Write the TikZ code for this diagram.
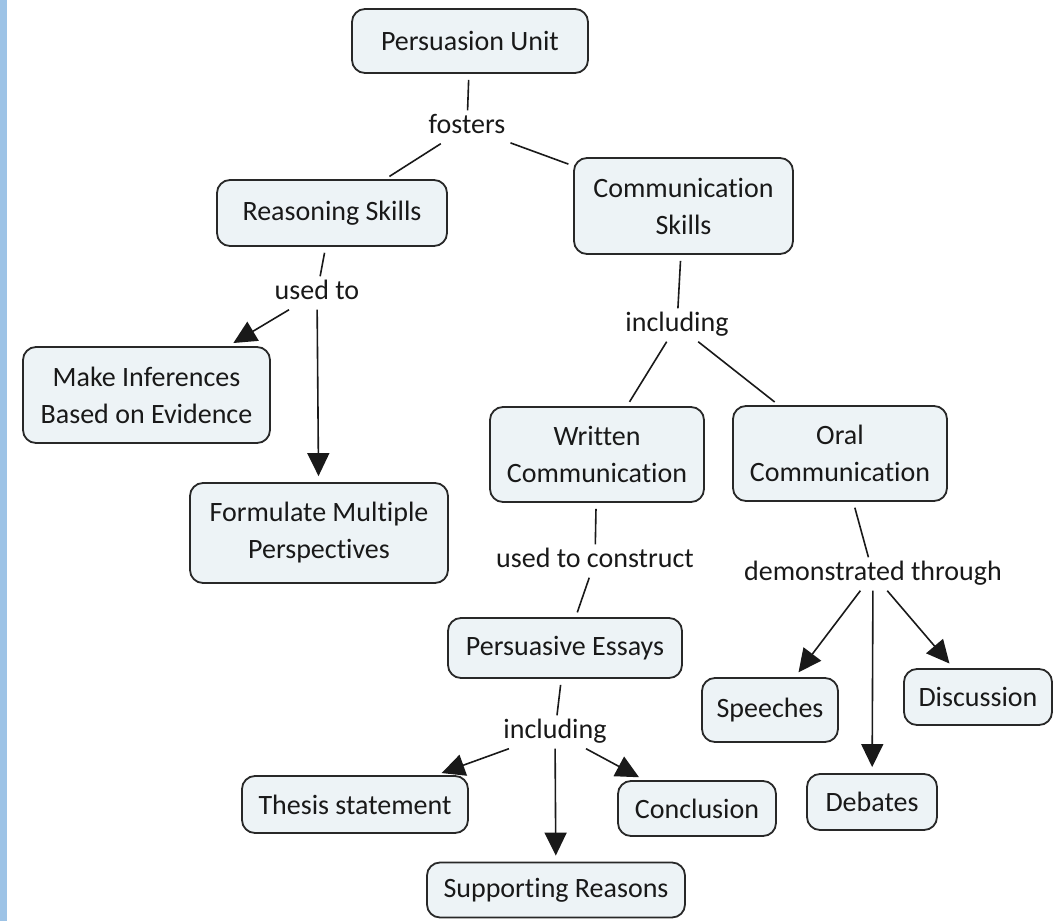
\documentclass[tikz,border=0pt]{standalone}
\usepackage{fontspec}
\setmainfont{Carlito}[Ligatures=NoCommon]
\usetikzlibrary{arrows.meta}
\definecolor{barblue}{RGB}{157,195,230}
\definecolor{boxfill}{RGB}{237,243,246}
\definecolor{boxline}{RGB}{40,40,40}
\definecolor{inkc}{RGB}{25,25,25}
\tikzset{
  concept/.style={draw=boxline, fill=boxfill, line width=1.8pt, rounded corners=13pt,
    align=center, inner sep=0pt, font=\fontsize{28}{37}\selectfont, text=inkc},
  linklabel/.style={font=\fontsize{28}{37}\selectfont, text=inkc, inner xsep=5pt,
    inner ysep=4pt, text height=19pt, text depth=6pt},
  conn/.style={draw=inkc, line width=1.6pt},
  arr/.style={conn, -{Triangle[length=23pt,width=22pt]}, shorten >=6pt},
  tobox/.style={shorten >=5pt},
  frombox/.style={shorten <=6pt},
}
\begin{document}
\begin{tikzpicture}[x=1pt,y=-1pt]
\useasboundingbox (0,0) rectangle (1053,921);
\fill[barblue] (0,0) rectangle (7,921);

% concepts
\node[concept, minimum width=236pt, minimum height=64pt] (pu) at (470,41) {Persuasion Unit};
\node[concept, minimum width=230pt, minimum height=66pt] (rs) at (332,213) {Reasoning Skills};
\node[concept, minimum width=219pt, minimum height=96pt] (cs) at (683.5,206) {Communication\\Skills};
\node[concept, minimum width=247pt, minimum height=96pt] (mi) at (146.5,395) {Make Inferences\\Based on Evidence};
\node[concept, minimum width=258pt, minimum height=100pt] (fm) at (319,533) {Formulate Multiple\\Perspectives};
\node[concept, minimum width=214pt, minimum height=95pt] (wc) at (597,454.5) {Written\\Communication};
\node[concept, minimum width=214pt, minimum height=95pt] (oc) at (840,453.5) {Oral\\Communication};
\node[concept, minimum width=234pt, minimum height=60pt] (pe) at (565,648) {Persuasive Essays};
\node[concept, minimum width=226pt, minimum height=57pt] (th) at (355,804.5) {Thesis statement};
\node[concept, minimum width=158pt, minimum height=55pt] (co) at (697,808.5) {Conclusion};
\node[concept, minimum width=258pt, minimum height=55pt] (sr) at (556,890) {Supporting Reasons};
\node[concept, minimum width=136pt, minimum height=64pt] (sp) at (770,710) {Speeches};
\node[concept, minimum width=148pt, minimum height=56pt] (di) at (978,697) {Discussion};
\node[concept, minimum width=130pt, minimum height=56pt] (db) at (872,802) {Debates};

% linking phrases
\node[linklabel] (fosters) at (467,127) {fosters};
\node[linklabel] (usedto) at (317,293) {used to};
\node[linklabel] (incl1) at (677,325) {including};
\node[linklabel] (usedtoc) at (595,561) {used to construct};
\node[linklabel] (incl2) at (555,732) {including};
\node[linklabel] (demo) at (873,574) {demonstrated through};

% connectors
\draw[conn, frombox] (pu) -- (fosters);
\draw[conn, tobox] (fosters) -- (rs);
\draw[conn, tobox] (fosters) -- (cs);
\draw[conn, frombox] (rs) -- (usedto);
\draw[arr] (usedto) -- (mi);
\draw[arr] (usedto) -- (fm);
\draw[conn, frombox] (cs) -- (incl1);
\draw[conn, tobox] (incl1) -- (wc);
\draw[conn, tobox] (incl1) -- (oc);
\draw[conn, frombox] (wc) -- (usedtoc);
\draw[conn, tobox] (usedtoc) -- (pe);
\draw[conn, frombox] (pe) -- (incl2);
\draw[arr] (incl2) -- (th);
\draw[arr] (incl2) -- (sr);
\draw[arr] (incl2) -- (co);
\draw[conn, frombox] (oc) -- (demo);
\draw[arr] (demo) -- (sp);
\draw[arr] (demo) -- (db);
\draw[arr] (demo) -- (di);
\end{tikzpicture}
\end{document}
